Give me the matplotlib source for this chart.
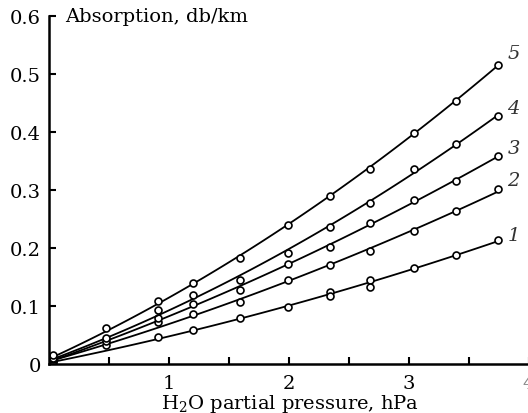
import numpy as np
import matplotlib
matplotlib.use('Agg')
from matplotlib import pyplot as plt

x5 = [0.03, 0.475, 0.91, 1.20, 1.59, 1.99, 2.34, 2.675, 3.04, 3.39, 3.74]
y5 = [0.015, 0.062, 0.109, 0.139, 0.182, 0.240, 0.290, 0.337, 0.398, 0.454, 0.516]

x4 = [0.03, 0.475, 0.91, 1.20, 1.59, 1.99, 2.34, 2.675, 3.04, 3.39, 3.74]
y4 = [0.010, 0.045, 0.093, 0.119, 0.145, 0.191, 0.237, 0.278, 0.337, 0.379, 0.427]

x3 = [0.03, 0.475, 0.91, 1.20, 1.59, 1.99, 2.34, 2.675, 3.04, 3.39, 3.74]
y3 = [0.008, 0.040, 0.079, 0.103, 0.128, 0.172, 0.202, 0.243, 0.283, 0.315, 0.358]

x2 = [0.03, 0.475, 0.91, 1.20, 1.59, 1.99, 2.34, 2.675, 3.04, 3.39, 3.74]
y2 = [0.006, 0.033, 0.072, 0.087, 0.107, 0.145, 0.170, 0.194, 0.229, 0.263, 0.302]

x1 = [0.03, 0.91, 1.20, 1.59, 1.99, 2.34, 2.34, 2.675, 2.675, 3.04, 3.39, 3.74]
y1 = [0.004, 0.046, 0.058, 0.080, 0.099, 0.124, 0.118, 0.144, 0.133, 0.165, 0.188, 0.213]

curve_labels = ['1', '2', '3', '4', '5']
yticks = [0, 0.1, 0.2, 0.3, 0.4, 0.5, 0.6]
ytick_labels = ['0', '0.1', '0.2', '0.3', '0.4', '0.5', '0.6']
xticks = [1, 2, 3, 4]

plt.rcParams['font.family'] = 'DejaVu Serif'
plt.rcParams['mathtext.fontset'] = 'dejavuserif'

fig = plt.figure(figsize=(5.28, 4.14), dpi=100)
ax = fig.add_axes([49/528, 49/414, 480/528, 348/414])

series = [(x1, y1), (x2, y2), (x3, y3), (x4, y4), (x5, y5)]
label_dy = [0.01, 0.015, 0.015, 0.015, 0.02]
for (xs, ys), lab, dy in zip(series, curve_labels, label_dy):
    xs = np.array(xs)
    ys = np.array(ys)
    # smooth curve through the measurements, from the origin
    p = np.polyfit(np.r_[0, xs], np.r_[0, ys], 2)
    xx = np.linspace(0.02, xs.max(), 100)
    ax.plot(xx, np.polyval(p, xx), color='black', lw=1.3)
    ax.plot(xs, ys, 'o', ms=5, mfc='white', mec='black', mew=1.2)
    ax.text(xs.max() + 0.08, ys[-1] + dy, lab, fontsize=14, style='italic',
            ha='left', va='center', color='#333333')

ax.set_xlim(0, 4)
ax.set_ylim(0, 0.6)
ax.spines['top'].set_visible(False)
ax.spines['right'].set_visible(False)
ax.spines['left'].set_linewidth(1.8)
ax.spines['bottom'].set_linewidth(1.8)
ax.set_xticks(xticks)
ax.set_xticks([0.5, 1.5, 2.5, 3.5], minor=True)
ax.set_yticks(yticks)
ax.set_yticklabels(ytick_labels)
ax.tick_params(direction='in', length=5, width=1.5, labelsize=14)
ax.tick_params(axis='x', which='minor', direction='in', length=5, width=1.5)
ax.tick_params(axis='x', pad=7)
ax.tick_params(axis='y', pad=6)
for lbl in ax.get_xticklabels():
    if lbl.get_text() == '4':
        lbl.set_color('#888888')

ax.text(16/480, 1.0, 'Absorption, db/km', transform=ax.transAxes,
        fontsize=14, ha='left', va='center')
fig.text(290/528, 1 - 404/414, r'H$_2$O partial pressure, hPa',
         fontsize=14, ha='center', va='center')

fig.savefig('out.png', dpi=100)
